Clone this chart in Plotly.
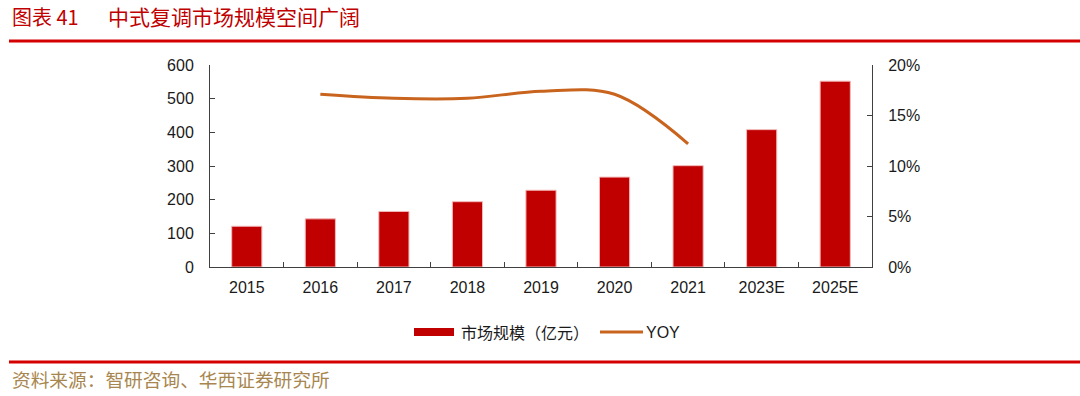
import plotly.graph_objects as go

categories = ["2015", "2016", "2017", "2018", "2019", "2020", "2021", "2023E", "2025E"]
market_size = [121, 143, 165, 194, 228, 267, 301, 408, 552]
yoy = [None, 0.171, 0.167, 0.167, 0.174, 0.171, 0.122, None, None]
yoy_ticks = [0, 0.05, 0.10, 0.15, 0.20]
yoy_tick_text = ["0%", "5%", "10%", "15%", "20%"]

W, H = 1080, 396
L, R, T, B = 210, 872, 65, 267


def px(x):
    return (x - L) / (R - L)


def py(y):
    return (B - y) / (B - T)


BAR = "#C00000"
LINE = "#C8641E"
AX = "#404040"
TXT = "#1a1a1a"

fig = go.Figure()
fig.add_trace(go.Bar(
    x=categories, y=market_size, name="市场规模（亿元）",
    marker=dict(color=BAR, line=dict(color="#F2B8B8", width=1)),
    width=0.41, yaxis="y",
))
fig.add_trace(go.Scatter(
    x=categories, y=yoy, name="YOY", mode="lines",
    line=dict(color=LINE, width=3, shape="spline", smoothing=1),
    yaxis="y2", connectgaps=False,
))

axis_font = dict(family="Liberation Sans, Arial", size=16, color=TXT)
fig.update_layout(
    width=W, height=H,
    margin=dict(l=L, r=W - R, t=T, b=H - B),
    paper_bgcolor="white", plot_bgcolor="white",
    showlegend=False,
    xaxis=dict(
        type="category", range=[-0.5, 8.5],
        showline=True, linecolor=AX, linewidth=1,
        ticks="inside", ticklen=5, tickcolor=AX, tickson="boundaries",
        tickfont=axis_font, showgrid=False, zeroline=False,
        ticklabelstandoff=6,
    ),
    yaxis=dict(
        range=[0, 600], tickvals=[0, 100, 200, 300, 400, 500, 600],
        showline=True, linecolor=AX, linewidth=1,
        ticks="inside", ticklen=5, tickcolor=AX,
        tickfont=axis_font, showgrid=False, zeroline=False,
        ticklabelstandoff=12,
    ),
    yaxis2=dict(
        range=[0, 0.2], tickvals=yoy_ticks, ticktext=yoy_tick_text,
        overlaying="y", side="right",
        showline=True, linecolor=AX, linewidth=1,
        ticks="inside", ticklen=5, tickcolor=AX,
        tickfont=axis_font, showgrid=False, zeroline=False,
        ticklabelstandoff=12,
    ),
)

shapes = [
    dict(type="line", xref="paper", yref="paper", x0=px(9), x1=px(1080), y0=py(41), y1=py(41),
         line=dict(color="#D40000", width=3)),
    dict(type="line", xref="paper", yref="paper", x0=px(9), x1=px(1080), y0=py(362), y1=py(362),
         line=dict(color="#D40000", width=3)),
    # legend symbols
    dict(type="rect", xref="paper", yref="paper", x0=px(414), x1=px(454), y0=py(336), y1=py(328),
         fillcolor=BAR, line=dict(width=0)),
    dict(type="line", xref="paper", yref="paper", x0=px(600), x1=px(643), y0=py(332), y1=py(332),
         line=dict(color=LINE, width=3)),
]
fig.update_layout(shapes=shapes)

cjk = "Noto Sans CJK SC"
annotations = [
    dict(text="图表 41", x=px(10), y=py(16), xref="paper", yref="paper",
         xanchor="left", yanchor="middle", showarrow=False,
         font=dict(family=cjk, size=20, color="#C00000")),
    dict(text="中式复调市场规模空间广阔", x=px(106), y=py(16), xref="paper", yref="paper",
         xanchor="left", yanchor="middle", showarrow=False,
         font=dict(family=cjk, size=21, color="#C00000")),
    dict(text="资料来源：智研咨询、华西证券研究所", x=px(10), y=py(378), xref="paper", yref="paper",
         xanchor="left", yanchor="middle", showarrow=False,
         font=dict(family=cjk, size=18.7, color="#A8864F")),
    dict(text="市场规模（亿元）", x=px(459), y=py(332), xref="paper", yref="paper",
         xanchor="left", yanchor="middle", showarrow=False,
         font=dict(family=cjk, size=16, color=TXT)),
    dict(text="YOY", x=px(644), y=py(332), xref="paper", yref="paper",
         xanchor="left", yanchor="middle", showarrow=False,
         font=dict(family="Liberation Sans, Arial", size=16, color=TXT)),
]
fig.update_layout(annotations=annotations)

fig.write_html("out.html", config={"displayModeBar": False},
               post_script="document.body.style.margin='0';document.body.style.overflow='hidden';")
